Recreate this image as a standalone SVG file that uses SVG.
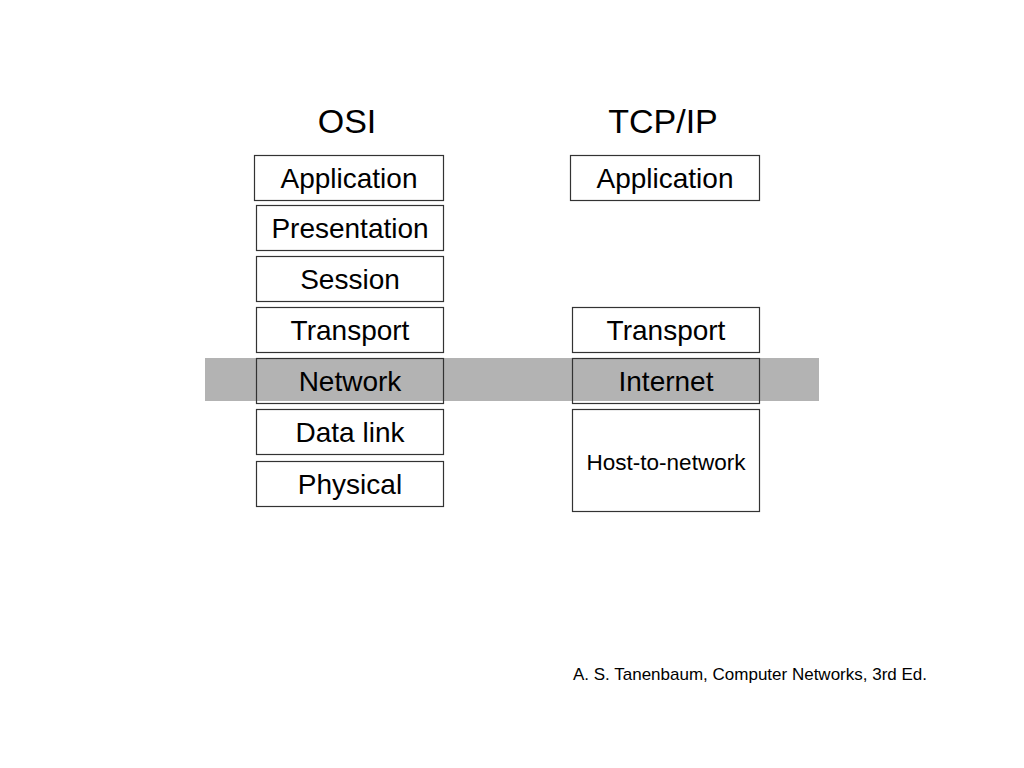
<svg xmlns="http://www.w3.org/2000/svg" width="1024" height="768" viewBox="0 0 1024 768">
<style>
.box{fill:none;stroke:#333;stroke-width:1.2}
.lbl{font-family:"Liberation Sans",Arial,sans-serif;font-size:28px;fill:#000;text-anchor:middle}
.hdr{font-family:"Liberation Sans",Arial,sans-serif;font-size:34px;fill:#000;text-anchor:middle}
</style>
<rect width="1024" height="768" fill="#fff"/>
<rect x="205" y="358" width="614" height="43" fill="#b3b3b3"/>
<text class="hdr" x="347" y="133">OSI</text>
<text class="hdr" x="663" y="133">TCP/IP</text>
<g id="osi-application"><rect class="box" x="254.5" y="155.5" width="189" height="45"/><text class="lbl" x="349" y="188">Application</text></g>
<g id="osi-presentation"><rect class="box" x="256.5" y="205.5" width="187" height="45"/><text class="lbl" x="350" y="238">Presentation</text></g>
<g id="osi-session"><rect class="box" x="256.5" y="256.5" width="187" height="45"/><text class="lbl" x="350" y="289">Session</text></g>
<g id="osi-transport"><rect class="box" x="256.5" y="307.5" width="187" height="45"/><text class="lbl" x="350" y="340">Transport</text></g>
<g id="osi-network"><rect class="box" x="256.5" y="358.5" width="187" height="45"/><text class="lbl" x="350" y="391">Network</text></g>
<g id="osi-datalink"><rect class="box" x="256.5" y="409.5" width="187" height="45"/><text class="lbl" x="350" y="442">Data link</text></g>
<g id="osi-physical"><rect class="box" x="256.5" y="461.5" width="187" height="45"/><text class="lbl" x="350" y="494">Physical</text></g>
<g id="tcp-application"><rect class="box" x="570.5" y="155.5" width="189" height="45"/><text class="lbl" x="665" y="188">Application</text></g>
<g id="tcp-transport"><rect class="box" x="572.5" y="307.5" width="187" height="45"/><text class="lbl" x="666" y="340">Transport</text></g>
<g id="tcp-internet"><rect class="box" x="572.5" y="358.5" width="187" height="45"/><text class="lbl" x="666" y="391">Internet</text></g>
<g id="tcp-hosttonetwork"><rect class="box" x="572.5" y="409.5" width="187" height="102"/><text class="lbl" x="666" y="470" style="font-size:22.5px">Host-to-network</text></g>
<g id="connectors"></g>
<text x="750" y="680" style="font-family:'Liberation Sans',Arial,sans-serif;font-size:17px;text-anchor:middle">A. S. Tanenbaum, Computer Networks, 3rd Ed.</text>
</svg>
